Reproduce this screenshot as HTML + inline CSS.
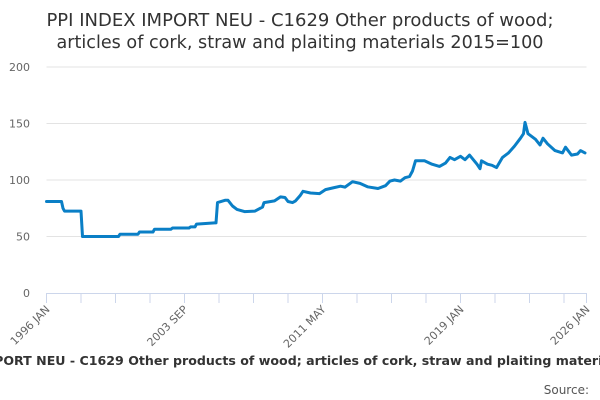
<!DOCTYPE html>
<html><head><meta charset="utf-8"><style>
body{margin:0;background:#fff;width:600px;height:400px;overflow:hidden;font-family:"DejaVu Sans","Liberation Sans",sans-serif}
svg{display:block}
</style></head><body>
<svg id="chart" width="600" height="400" xmlns="http://www.w3.org/2000/svg">
<text x="300" y="26" text-anchor="middle" font-size="18" fill="#333">PPI INDEX IMPORT NEU - C1629 Other products of wood;</text>
<text x="300" y="48" text-anchor="middle" font-size="17.6" fill="#333">articles of cork, straw and plaiting materials 2015=100</text>
<g id="grid"></g>
<g id="yticks"></g>
<g id="xaxis"></g>
<g id="series"></g>
<text x="300" y="365" text-anchor="middle" font-size="12.6" font-weight="bold" fill="#333">PPI INDEX IMPORT NEU - C1629 Other products of wood; articles of cork, straw and plaiting materials 2015=100</text>
<text x="589" y="394" text-anchor="end" font-size="12" fill="#555">Source:</text>
</svg>
<script>
const yTicks=[0,50,100,150,200];
const xTickMonths=[0,92,184,276,360];
const xTickLabels=["1996 JAN","2003 SEP","2011 MAY","2019 JAN","2026 JAN"];
const months=[0,10,11,12,23,24,48,49,61,62,71,72,83,84,95,96,99,100,112,113,114,119,121,124,127,132,139,144,145,152,156,159,161,164,166,169,171,176,182,186,191,196,199,204,209,214,221,226,229,232,236,239,242,244,246,252,257,262,266,269,272,276,279,282,287,289,290,294,297,300,304,308,312,316,318,319,321,326,329,331,334,339,344,346,350,354,356,359];
const values=[81,81,75,72.5,72.5,50,50,52,52,54,54,56.5,56.5,57.5,57.5,58.5,58.5,61,62,62,80,82,82,77,74,72,72.5,76,80,81.5,85,84.5,81,80,81.5,86,90,88.5,88,91.5,93,94.5,93.7,98.5,97,94,92.5,95,99,100,99,102,103,108,117,117,114,112,115,120,118,121,118,122,114,110,117,114,113,111,120,124,130,137,141,151,141,136,131,137,132,126,124,129,122,123,126,124];
const NS="http://www.w3.org/2000/svg";
const x0=46.5,x1=586.5,yb=293,yt=67;
const xs=m=>x0+(x1-x0)*m/360;
const ys=v=>yb-(yb-yt)*v/200;
const grid=document.getElementById('grid'),yl=document.getElementById('yticks'),xa=document.getElementById('xaxis'),se=document.getElementById('series');
function mk(t,a,p){const e=document.createElementNS(NS,t);for(const k in a)e.setAttribute(k,a[k]);p.appendChild(e);return e;}
yTicks.forEach(v=>{
 if(v>0){const l=mk('line',{x1:x0,x2:x1,y1:ys(v),y2:ys(v),stroke:'#e3e3e3','stroke-width':1},grid);
 
 }
 const t=mk('text',{x:30,y:ys(v)+4,'text-anchor':'end','font-size':11,fill:'#666'},yl);
 t.textContent=v;
 
 
});
const ax=mk('line',{x1:x0,x2:x1,y1:yb+0.5,y2:yb+0.5,stroke:'#ccd6eb','stroke-width':1},xa);


for(let m=0;m<=360;m+=23){const tk=mk('line',{x1:xs(m),x2:xs(m),y1:yb,y2:yb+10,stroke:'#ccd6eb'},xa);
 
 }
const lt=mk('line',{x1:xs(360),x2:xs(360),y1:yb,y2:yb+10,stroke:'#ccd6eb'},xa);


xTickMonths.forEach((m,i)=>{
 const t=mk('text',{x:xs(m)+4,y:yb+17,'text-anchor':'end','font-size':11,fill:'#666',transform:`rotate(-45 ${xs(m)+4} ${yb+17})`},xa);
 t.textContent=xTickLabels[i];
 
 
});
const d=months.map((m,i)=>(i?'L':'M')+xs(m).toFixed(1)+' '+ys(values[i]).toFixed(1)).join(' ');
const p=mk('path',{d:d,fill:'none',stroke:'#0a7fc6','stroke-width':3,'stroke-linejoin':'round','stroke-linecap':'round'},se);


</script>
</body></html>
